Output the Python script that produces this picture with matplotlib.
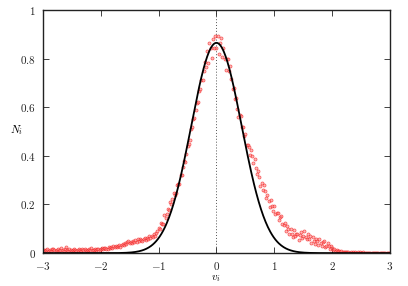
import numpy as np
import matplotlib
matplotlib.use("Agg")
import matplotlib.pyplot as plt
from matplotlib.ticker import FuncFormatter

plt.rcParams['mathtext.fontset'] = 'cm'
plt.rcParams['font.family'] = ['DejaVu Serif']

# Measured distribution N_i at v_i = -3.00, -2.98, ..., 3.00 (step 0.02)
v_start, v_step = -3.0, 0.02
n_measured = [
    0.011, 0.014, 0.008, 0.012, 0.017, 0.010, 0.013, 0.009, 0.015, 0.018,
    0.012, 0.009, 0.014, 0.016, 0.010, 0.013, 0.019, 0.011, 0.008, 0.015,
    0.026, 0.012, 0.010, 0.016, 0.013, 0.009, 0.014, 0.017, 0.012, 0.010,
    0.013, 0.016, 0.011, 0.009, 0.015, 0.013, 0.018, 0.012, 0.010, 0.014,
    0.016, 0.012, 0.019, 0.014, 0.011, 0.016, 0.013, 0.018, 0.015, 0.012,
    0.017, 0.021, 0.015, 0.019, 0.023, 0.018, 0.016, 0.024, 0.020, 0.026,
    0.022, 0.028, 0.025, 0.031, 0.024, 0.030, 0.034, 0.027, 0.033, 0.038,
    0.034, 0.041, 0.037, 0.044, 0.048, 0.040, 0.047, 0.043, 0.051, 0.046,
    0.053, 0.047, 0.056, 0.050, 0.059, 0.054, 0.049, 0.057, 0.062, 0.055,
    0.064, 0.058, 0.069, 0.061, 0.072, 0.066, 0.078, 0.071, 0.083, 0.090,
    0.105, 0.101, 0.123, 0.121, 0.120, 0.155, 0.145, 0.161, 0.183, 0.176,
    0.209, 0.201, 0.222, 0.249, 0.241, 0.248, 0.281, 0.285, 0.285, 0.321,
    0.322, 0.355, 0.378, 0.373, 0.408, 0.440, 0.447, 0.464, 0.512, 0.520,
    0.553, 0.556, 0.589, 0.617, 0.620, 0.668, 0.675, 0.712, 0.713, 0.749,
    0.788, 0.765, 0.830, 0.783, 0.865, 0.845, 0.803, 0.879, 0.843, 0.895,
    0.845, 0.893, 0.819, 0.863, 0.885, 0.805, 0.843, 0.800, 0.755, 0.798,
    0.798, 0.750, 0.770, 0.718, 0.675, 0.680, 0.635, 0.640, 0.594, 0.558,
    0.568, 0.563, 0.518, 0.518, 0.483, 0.490, 0.445, 0.445, 0.438, 0.403,
    0.425, 0.401, 0.372, 0.388, 0.349, 0.325, 0.336, 0.312, 0.278, 0.289,
    0.260, 0.280, 0.255, 0.225, 0.240, 0.215, 0.191, 0.217, 0.193, 0.174,
    0.195, 0.159, 0.163, 0.167, 0.136, 0.150, 0.152, 0.120, 0.117, 0.125,
    0.092, 0.111, 0.101, 0.080, 0.100, 0.080, 0.068, 0.096, 0.069, 0.077,
    0.080, 0.055, 0.076, 0.086, 0.062, 0.072, 0.092, 0.066, 0.060, 0.078,
    0.057, 0.069, 0.041, 0.068, 0.050, 0.037, 0.056, 0.049, 0.033, 0.056,
    0.040, 0.029, 0.047, 0.051, 0.025, 0.028, 0.041, 0.029, 0.016, 0.028,
    0.020, 0.014, 0.018, 0.010, 0.012, 0.007, 0.009, 0.005, 0.007, 0.004,
    0.005, 0.003, 0.004, 0.003, 0.004, 0.002, 0.004, 0.002, 0.003, 0.002,
    0.003, 0.002, 0.003, 0.002, 0.003, 0.002, 0.002, 0.003, 0.002, 0.002,
    0.002, 0.002, 0.002, 0.002, 0.002, 0.002, 0.002, 0.002, 0.002, 0.002,
    0.002, 0.002, 0.002, 0.002, 0.002, 0.002, 0.002, 0.002, 0.002, 0.002,
    0.002,
]
v_measured = np.round(v_start + v_step * np.arange(len(n_measured)), 2)

# Gaussian fit parameters
gauss_amp = 0.865
gauss_sigma = 0.435

x_ticks = [-3, -2, -1, 0, 1, 2, 3]
y_ticks = [0, 0.2, 0.4, 0.6, 0.8, 1]

fig = plt.figure(figsize=(4.08, 2.86), dpi=100)
ax = fig.add_axes([0.105, 0.115, 0.851, 0.85])

v_fit = np.linspace(-3, 3, 601)
ax.plot(v_fit, gauss_amp * np.exp(-v_fit**2 / (2 * gauss_sigma**2)),
        color='black', lw=1.3, zorder=3)
ax.plot(v_measured, n_measured, 'o', ms=2.2, mfc=(1, 0.55, 0.55, 0.6),
        mec=(0.95, 0.1, 0.1, 0.7), mew=0.5, zorder=2, ls='none')
ax.axvline(0, color='#555555', lw=0.7, ls=(0, (1, 2)), zorder=1)

ax.set_xlim(-3, 3)
ax.set_ylim(0, 1)
ax.set_xticks(x_ticks)
ax.set_yticks(y_ticks)
fmt = FuncFormatter(lambda val, pos: r'$%g$' % val)
ax.xaxis.set_major_formatter(fmt)
ax.yaxis.set_major_formatter(fmt)
ax.tick_params(direction='in', length=4, width=0.6, top=True, right=True,
               labelsize=8, pad=5, colors='#222222')
for s in ax.spines.values():
    s.set_linewidth(1.0)
    s.set_color('#222222')

fig.text(10 / 408, 1 - 130 / 286, r'$N_i$', fontsize=8, ha='left', va='center')
fig.text(216 / 408, 1 - 279 / 286, r'$v_i$', fontsize=8, ha='center', va='center')

fig.savefig('out.png', dpi=100)
